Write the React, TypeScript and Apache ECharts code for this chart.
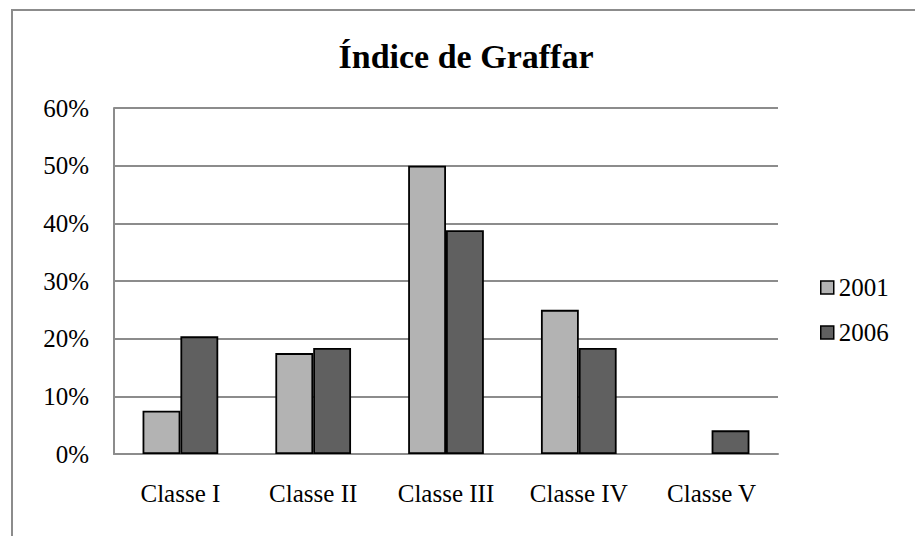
import React, { useEffect, useRef } from "react";
import * as echarts from "echarts";

const categories = ["Classe I", "Classe II", "Classe III", "Classe IV", "Classe V"];
const values2001 = [7.5, 17.5, 50, 25, null];
const values2006 = [20.4, 18.4, 38.8, 18.4, 4.1];
const seriesNames = ["2001", "2006"];
const yTicks = { min: 0, max: 60, interval: 10 };
const titleText = "Índice de Graffar";

const FONT = "'Liberation Serif', 'DejaVu Serif', serif";

export default function App() {
  const ref = useRef<HTMLDivElement>(null);
  useEffect(() => {
    if (!ref.current) return;
    const chart = echarts.init(ref.current, null, { renderer: "svg" });
    chart.setOption({
      animation: false,
      backgroundColor: "#ffffff",
      textStyle: { fontFamily: FONT },
      title: {
        text: titleText,
        left: 461,
        textAlign: "center",
        top: 34,
        textStyle: { fontFamily: FONT, fontSize: 34, fontWeight: "bold", color: "#000" },
      },
      legend: {
        orient: "vertical",
        left: 815,
        top: 270,
        itemWidth: 13,
        itemHeight: 13,
        itemGap: 20,
        icon: "rect",
        textStyle: { fontFamily: FONT, fontSize: 25, color: "#000" },
        itemStyle: { borderColor: "#000", borderWidth: 1.5 },
        data: seriesNames,
      },
      grid: { left: 114, right: 137, top: 108, bottom: 82, containLabel: false },
      xAxis: {
        type: "category",
        data: categories,
        axisLine: { lineStyle: { color: "#8c8c8c", width: 2 } },
        axisTick: { show: false },
        axisLabel: { fontFamily: FONT, fontSize: 25, color: "#000", margin: 27 },
      },
      yAxis: {
        type: "value",
        min: yTicks.min,
        max: yTicks.max,
        interval: yTicks.interval,
        axisLine: { show: true, lineStyle: { color: "#8c8c8c", width: 2 } },
        axisTick: { show: false },
        splitLine: { lineStyle: { color: "#8c8c8c", width: 2 } },
        axisLabel: {
          fontFamily: FONT,
          fontSize: 25,
          color: "#000",
          margin: 25,
          formatter: (v: number) => `${v}%`,
        },
      },
      graphic: [
        {
          type: "rect",
          shape: { x: 12, y: 10, width: 920, height: 540 },
          style: { fill: "none", stroke: "#8c8c8c", lineWidth: 2 },
          silent: true,
        },
      ],
      series: [
        {
          name: seriesNames[0],
          type: "bar",
          data: values2001,
          barGap: "0%",
          barCategoryGap: "43%",
          itemStyle: { color: "#b3b3b3", borderColor: "#000", borderWidth: 1.8 },
        },
        {
          name: seriesNames[1],
          type: "bar",
          data: values2006,
          barGap: "0%",
          barCategoryGap: "43%",
          itemStyle: { color: "#606060", borderColor: "#000", borderWidth: 1.8 },
        },
      ],
    });
    return () => chart.dispose();
  }, []);
  return (
    <div
      ref={ref}
      style={{ position: "fixed", left: 0, top: 0, width: 915, height: 536 }}
    />
  );
}
